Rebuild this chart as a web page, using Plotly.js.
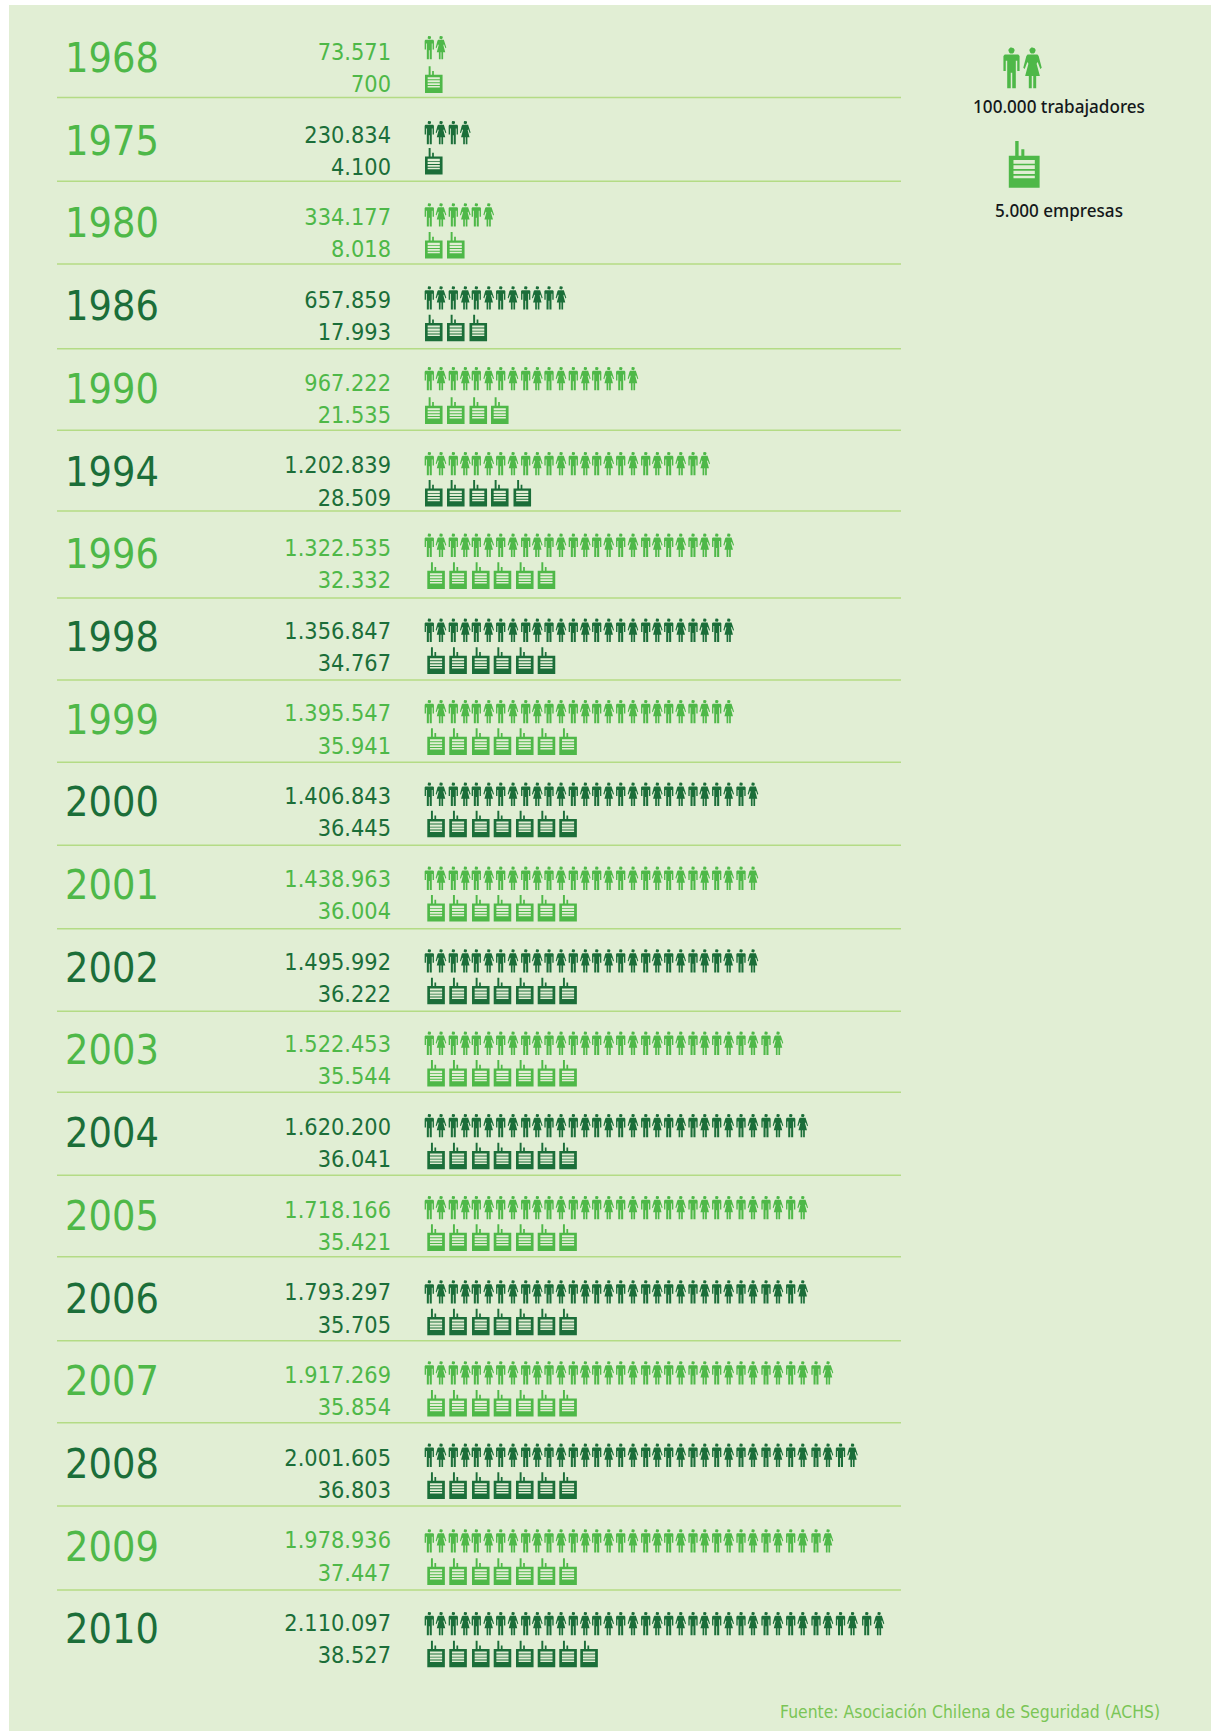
<!DOCTYPE html>
<html>
<head>
<meta charset="utf-8">
<script src="https://cdn.plot.ly/plotly-3.0.1.min.js"></script>
<style>html,body{margin:0;padding:0;background:#fff}#c{width:1215px;height:1731px}</style>
</head>
<body>
<div id="c"></div>
<script>
// ---- data
const years = [1968,1975,1980,1986,1990,1994,1996,1998,1999,2000,2001,2002,2003,2004,2005,2006,2007,2008,2009,2010];
const workers = [73571,230834,334177,657859,967222,1202839,1322535,1356847,1395547,1406843,1438963,1495992,1522453,1620200,1718166,1793297,1917269,2001605,1978936,2110097];
const companies = [700,4100,8018,17993,21535,28509,32332,34767,35941,36445,36004,36222,35544,36041,35421,35705,35854,36803,37447,38527];
const personIcons = [2,4,6,12,18,24,26,26,26,28,28,28,30,32,32,32,34,36,34,38];
const companyIcons = [1,1,2,3,4,5,6,6,7,7,7,7,7,7,7,7,7,7,7,8];
const legendWorkers = "100.000 trabajadores";
const legendCompanies = "5.000 empresas";
const sourceText = "Fuente: Asociación Chilena de Seguridad (ACHS)";

// ---- colours
const LIGHT = "#4eb848", DARK = "#1b6e39", BG = "#e1eed4", RULE = "#b4db85", SRC = "#7ac556", INK = "#14181a";
// 1 = dark; per-row colouring of year, numbers, people, companies
const yearDark   = [0,0,0,1,0,1,0,1,0,1,0,1,0,1,0,1,0,1,0,1];
const numberDark = [0,1,0,1,0,1,0,1,0,1,0,1,0,1,0,1,0,1,0,1];
const peopleDark = [0,1,0,1,0,0,0,1,0,1,0,1,0,1,0,1,0,1,0,1];
const firmDark   = [0,1,0,1,0,1,0,1,0,1,0,1,0,1,0,1,0,1,0,1];

// ---- layout constants
const ruleY = [97.5,181.3,264,348.7,430.3,511,598,680,762.3,845.3,928.7,1011.3,1092.3,1175.3,1256.7,1340.7,1422.7,1506,1590];
const personTop = [35.7,120.7,203,286,366.7,451.7,533.3,618.3,699.7,782.3,866.3,949,1031.3,1113.7,1195.7,1280,1361,1443.3,1529,1611.7];
const firmTop = [66.3,148,232,314.7,397.3,480,562.3,647.3,728.3,810.7,895,977.7,1060,1142.7,1224.3,1308.7,1390,1472.3,1558.3,1640.7];
const personX = [429.3,441,453.3,465.3,476.3,488.7,500.7,513,525.7,537.3,549,561,573.3,585.3,596.7,608.7,620.7,633,645.7,657.3,668.7,680.7,693,704.7,716.7,728.7,741,753,766,778,790.7,802.7,816,828,840.5,852.5,866.7,879];
const firmXEarly = [425,447,469.5,491,513.5];
const firmXLate = [427.3,449.3,472,493.7,516,537.7,559.3,580.3];
const PERSON_H = 23.6, FIRM_H = 26.6;

// ---- glyph outlines, in units of the glyph's height
function circle(cx, cy, r){const p=[];for(let a=0;a<=16;a++){const t=a/16*2*Math.PI;p.push([cx+r*Math.cos(t),cy+r*Math.sin(t)]);}return p;}
function mirror(half){return half.concat(half.slice().reverse().map(p=>[-p[0],p[1]]));}
const manBody = mirror([[-0.05,0.175],[-0.165,0.175],[-0.197,0.21],[-0.197,0.58],[-0.14,0.58],[-0.14,0.33],[-0.105,0.33],[-0.105,1],[-0.018,1],[-0.018,0.62]]);
const womanBody = mirror([[-0.05,0.175],[-0.12,0.175],[-0.15,0.21],[-0.225,0.5],[-0.19,0.53],[-0.125,0.36],[-0.10,0.40],[-0.18,0.70],[-0.09,0.70],[-0.09,1],[-0.018,1],[-0.018,0.70]]);
const man = [circle(0,0.078,0.076), manBody];
const woman = [circle(0,0.078,0.076), womanBody];
const firmOuter = [[[0,0.315],[0.1375,0.315],[0.1375,0],[0.21,0],[0.21,0.315],[0.268,0.315],[0.268,0.178],[0.333,0.178],[0.333,0.315],[0.66,0.315],[0.66,1],[0,1]]];
const bar = (a,b)=>[[0.10,a],[0.557,a],[0.557,b],[0.10,b]];
const firmBars = [bar(0.407,0.485),bar(0.52,0.6),bar(0.636,0.707),bar(0.743,0.8)];

function stamp(path, polys, cx, top, h){
  polys.forEach(poly=>{
    poly.forEach(p=>{path.x.push(cx+p[0]*h);path.y.push(top+p[1]*h);});
    path.x.push(poly[0][0]*h+cx);path.y.push(top+poly[0][1]*h);
    path.x.push(null);path.y.push(null);
  });
}
const empty=()=>({x:[],y:[]});
const pL=empty(),pD=empty(),fL=empty(),fD=empty(),fB=empty();
years.forEach((yr,r)=>{
  const pp = peopleDark[r]?pD:pL, ff = firmDark[r]?fD:fL;
  for(let i=0;i<personIcons[r];i++) stamp(pp, i%2?woman:man, personX[i], personTop[r], PERSON_H);
  const xs = r<6?firmXEarly:firmXLate;
  for(let i=0;i<companyIcons[r];i++){
    stamp(ff, firmOuter, xs[i], firmTop[r], FIRM_H);
    stamp(fB, firmBars, xs[i], firmTop[r], FIRM_H);
  }
});
// legend glyphs
stamp(pL, man, 1011.5, 47.3, 41);
stamp(pL, woman, 1032.5, 47.3, 41);
stamp(fL, firmOuter, 1008.8, 141, 46.7);
stamp(fB, firmBars, 1008.8, 141, 46.7);

const fillTrace=(p,c)=>({type:"scatter",mode:"lines",x:p.x,y:p.y,fill:"toself",fillcolor:c,line:{width:0,color:c},hoverinfo:"skip",connectgaps:false});
const fmt=n=>String(n).replace(/\B(?=(\d{3})+(?!\d))/g,".");
const FONT="'DejaVu Sans Condensed','DejaVu Sans',sans-serif";
const rowY=(start,r)=>start+82.7*r;
const textTrace=(x,y,t,pos,size,colors,family,weight)=>({type:"scatter",mode:"text",x,y,text:t,textposition:pos,textfont:{family:family||FONT,size,color:colors,weight:weight||400},hoverinfo:"skip",cliponaxis:false});

const traces=[
  fillTrace(pL,LIGHT),fillTrace(pD,DARK),fillTrace(fL,LIGHT),fillTrace(fD,DARK),fillTrace(fB,BG),
  textTrace(years.map(()=>65),years.map((_,r)=>rowY(61.8,r)),years.map(String),"middle right",41,yearDark.map(d=>d?DARK:LIGHT)),
  textTrace(years.map(()=>391),years.map((_,r)=>rowY(54,r)),workers.map(fmt),"middle left",23.3,numberDark.map(d=>d?DARK:LIGHT)),
  textTrace(years.map(()=>391),years.map((_,r)=>rowY(86.2,r)),companies.map(fmt),"middle left",23.3,numberDark.map(d=>d?DARK:LIGHT)),
  textTrace([1059,1059],[109,213],[legendWorkers,legendCompanies],"middle center",17.1,[INK,INK],"'Noto Sans',sans-serif",500),
  textTrace([1160],[1714],[sourceText],"middle left",17.4,[SRC])
];

const shapes=[{type:"rect",xref:"x",yref:"y",x0:9,x1:1211,y0:5,y1:1731,fillcolor:BG,line:{width:0},layer:"below"}]
  .concat(ruleY.map(y=>({type:"line",xref:"x",yref:"y",x0:57,x1:901,y0:y,y1:y,line:{color:RULE,width:1.6},layer:"below"})));

Plotly.newPlot("c",traces,{
  width:1215,height:1731,margin:{l:0,r:0,t:0,b:0},showlegend:false,
  paper_bgcolor:"#ffffff",plot_bgcolor:"rgba(0,0,0,0)",
  xaxis:{range:[0,1215],visible:false,fixedrange:true},
  yaxis:{range:[1731,0],visible:false,fixedrange:true},
  shapes
},{displayModeBar:false,staticPlot:true});
</script>
</body>
</html>
